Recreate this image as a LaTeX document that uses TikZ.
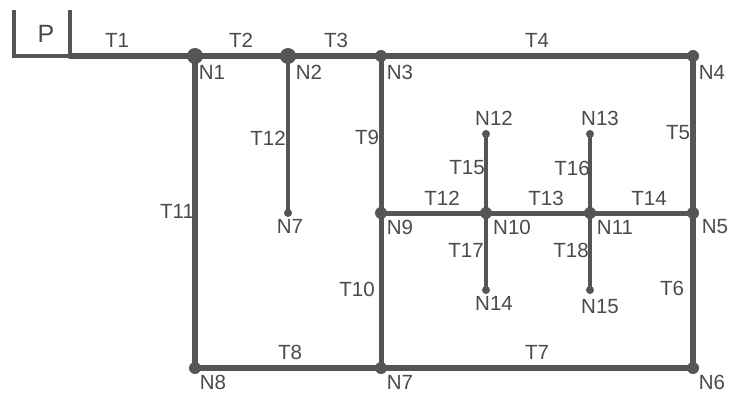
\documentclass[tikz,border=0pt]{standalone}
\usepackage{fontspec}
\setmainfont{Liberation Sans}
\definecolor{ln}{HTML}{555555}
\definecolor{tx}{HTML}{4A4A4A}
\begin{document}
\begin{tikzpicture}[x=1pt,y=-1pt,
 lbl/.style={text=tx, font=\fontsize{20.5}{21}\selectfont, inner sep=0pt, anchor=center},
 pipeA/.style={draw=ln, line width=6pt, line cap=round},
 pipeB/.style={draw=ln, line width=5pt},
 pipeC/.style={draw=ln, line width=3.3pt},
 boxl/.style={draw=ln, line width=4pt},
 bigdot/.style={circle, fill=ln, minimum size=16pt, inner sep=0pt},
 meddot/.style={circle, fill=ln, minimum size=12pt, inner sep=0pt},
 smalldot/.style={circle, fill=ln, minimum size=8pt, inner sep=0pt}]
\useasboundingbox (0,0) rectangle (729,394);
% junctions
\coordinate (PL) at (14,56);
\coordinate (PLt) at (14,10);
\coordinate (PR) at (70,56);
\coordinate (PRt) at (70,10);
\node[bigdot] (N1) at (195,56) {};
\node[bigdot] (N2) at (288,56) {};
\node[meddot] (N3) at (381,56) {};
\node[meddot] (N4) at (693,56) {};
\node[smalldot] (N7a) at (288,213) {};
\node[meddot] (N9) at (381,213) {};
\node[meddot] (N10) at (486,213) {};
\node[meddot] (N11) at (590,213) {};
\node[meddot] (N5) at (693,213) {};
\node[smalldot] (N12) at (486,134) {};
\node[smalldot] (N13) at (590,134) {};
\node[smalldot] (N14) at (486,290) {};
\node[smalldot] (N15) at (590,290) {};
\node[meddot] (N8) at (195,368) {};
\node[meddot] (N7) at (381,368) {};
\node[meddot] (N6) at (693,368) {};
% P box
\draw[boxl] (PLt) -- (PL.center) -- (PR.center);
\draw[boxl] (PRt) -- (PR.center);
% pipes
\draw[pipeA] (PR) -- (N1.center);
\draw[pipeA] (N1.center) -- (N2.center);
\draw[pipeA] (N2.center) -- (N3.center);
\draw[pipeA] (N3.center) -- (N4.center);
\draw[pipeA] (N4.center) -- (N5.center);
\draw[pipeA] (N5.center) -- (N6.center);
\draw[pipeA] (N6.center) -- (N7.center);
\draw[pipeA] (N7.center) -- (N8.center);
\draw[pipeA] (N8.center) -- (N1.center);
\draw[pipeB] (N3.center) -- (N9.center);
\draw[pipeB] (N9.center) -- (N7.center);
\draw[pipeB] (N9.center) -- (N10.center);
\draw[pipeB] (N10.center) -- (N11.center);
\draw[pipeB] (N11.center) -- (N5.center);
\draw[pipeC] (N2.center) -- (N7a.center);
\draw[pipeC] (N12.center) -- (N10.center);
\draw[pipeC] (N10.center) -- (N14.center);
\draw[pipeC] (N13.center) -- (N11.center);
\draw[pipeC] (N11.center) -- (N15.center);
% labels
\node[lbl, font=\fontsize{25}{25}\selectfont] (lP) at (46,34) {P};
\node[lbl] (lT1) at (117,40) {T1};
\node[lbl] (lT2) at (241,40) {T2};
\node[lbl] (lT3) at (336,40) {T3};
\node[lbl] (lT4) at (537,40) {T4};
\node[lbl] (lN1) at (212,72) {N1};
\node[lbl] (lN2) at (309,72) {N2};
\node[lbl] (lN3) at (400,72) {N3};
\node[lbl] (lN4) at (712,72) {N4};
\node[lbl] (lT12a) at (268,138) {T12};
\node[lbl] (lN7a) at (290,226) {N7};
\node[lbl] (lT9) at (367,137) {T9};
\node[lbl] (lT11) at (177,211) {T11};
\node[lbl] (lT10) at (357,289) {T10};
\node[lbl] (lT8) at (290,352) {T8};
\node[lbl] (lT7) at (537,352) {T7};
\node[lbl] (lN8) at (213,382) {N8};
\node[lbl] (lN7) at (400,382) {N7};
\node[lbl] (lN6) at (712,382) {N6};
\node[lbl] (lN12) at (494,118) {N12};
\node[lbl] (lN13) at (600,118) {N13};
\node[lbl] (lT5) at (678,133) {T5};
\node[lbl] (lT15) at (467,168) {T15};
\node[lbl] (lT16) at (572,168) {T16};
\node[lbl] (lT12) at (442,198) {T12};
\node[lbl] (lT13) at (546,198) {T13};
\node[lbl] (lT14) at (649,198) {T14};
\node[lbl] (lN9) at (400,227) {N9};
\node[lbl] (lN10) at (512,227) {N10};
\node[lbl] (lN11) at (615,227) {N11};
\node[lbl] (lN5) at (715,227) {N5};
\node[lbl] (lT17) at (466,250) {T17};
\node[lbl] (lT18) at (571,250) {T18};
\node[lbl] (lN14) at (494,303) {N14};
\node[lbl] (lN15) at (600,307) {N15};
\node[lbl] (lT6) at (672,288) {T6};
\end{tikzpicture}
\end{document}
